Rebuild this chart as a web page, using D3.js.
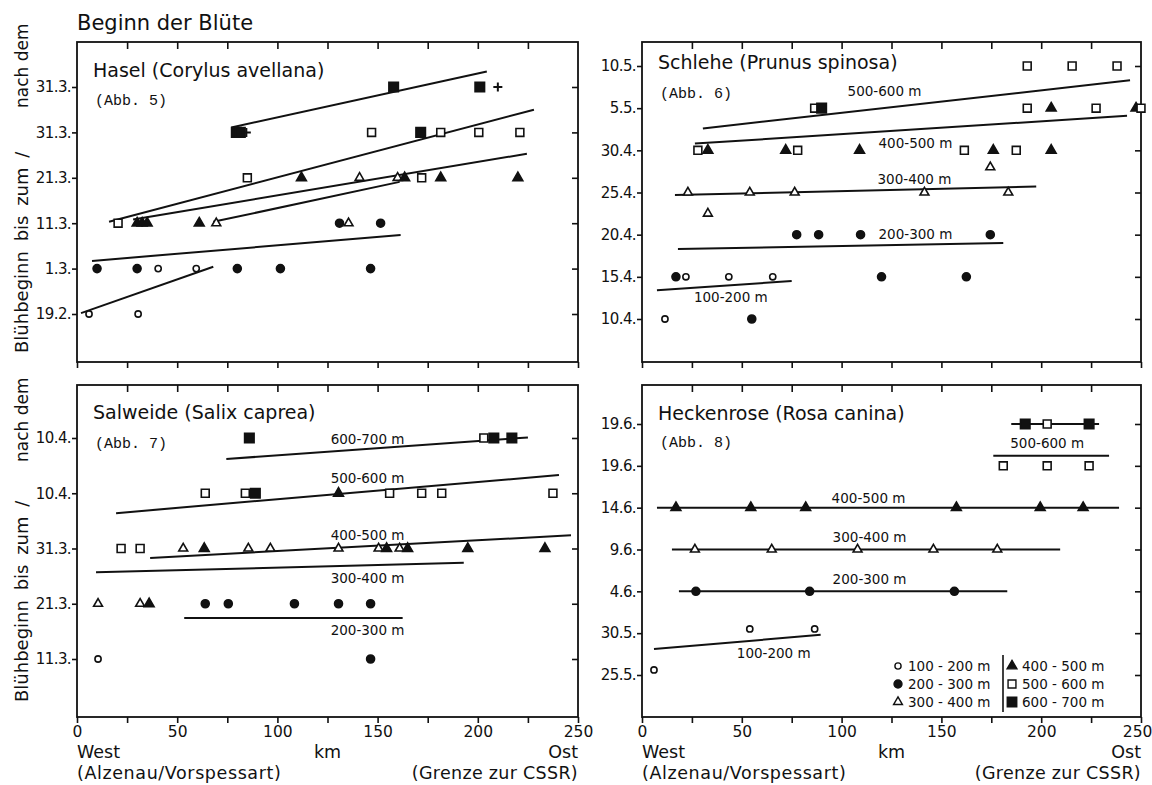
<!DOCTYPE html>
<html>
<head>
<meta charset="utf-8">
<script src="https://cdn.jsdelivr.net/npm/d3@7"></script>
<style>
  body { margin: 0; background: #fff; }
  text { font-family: "DejaVu Sans", sans-serif; fill: #111; }
</style>
</head>
<body>
<svg id="chart" width="1152" height="785"></svg>
<script>
// Beginn der Bluete - four panels, km (west -> east) vs. day of year

var kmTicks = [0, 25, 50, 75, 100, 125, 150, 175, 200, 225, 250];
var kmLabels = [0, 50, 100, 150, 200, 250];

// symbol codes: o = 100-200, c = 200-300, t = 300-400, T = 400-500, s = 500-600, S = 600-700, + = extra
var legendCodes = ['o', 'c', 't', 'T', 's', 'S'];
var legendTexts = ['100 - 200 m', '200 - 300 m', '300 - 400 m', '400 - 500 m', '500 - 600 m', '600 - 700 m'];

// ---- Hasel (Abb. 5)
var haselDays = [50, 60, 70, 80, 90, 100];
var haselTickLabels = ['19.2.', '1.3.', '11.3.', '21.3.', '31.3.', '31.3.'];
var haselPoints = [
  ['S', 158, 100], ['S', 201, 100], ['+', 210, 100],
  ['S', 79.5, 90], ['S', 81.5, 90], ['+', 84.5, 90], ['s', 147, 90], ['S', 171.5, 90],
  ['s', 181.5, 90], ['s', 200.5, 90], ['s', 221, 90],
  ['s', 85, 80], ['T', 112, 80], ['t', 141, 80], ['t', 160, 80], ['T', 163.5, 80],
  ['s', 172, 80], ['T', 181.5, 80], ['T', 220, 80],
  ['s', 20.5, 70], ['T', 30, 70], ['T', 32.5, 70], ['T', 35, 70], ['T', 61, 70], ['t', 69.5, 70],
  ['c', 131, 70], ['t', 135.5, 70], ['c', 151.5, 70],
  ['c', 10, 60], ['c', 30, 60], ['o', 40.5, 60], ['o', 59.5, 60], ['c', 80, 60], ['c', 101.5, 60], ['c', 146.5, 60],
  ['o', 6, 50], ['o', 30.5, 50]
];
var haselLines = [
  [77, 91.1, 204.5, 103.4],
  [16, 70.3, 228, 95],
  [28, 70.8, 224.5, 85.3],
  [68, 70.3, 161, 79.1],
  [7.5, 61.7, 161.5, 67.4],
  [2, 50.2, 68, 60.4]
];
var haselNotes = [];

// ---- Schlehe (Abb. 6)
var schleheDays = [100, 105, 110, 115, 120, 125, 130];
var schleheTickLabels = ['10.4.', '15.4.', '20.4.', '25.4.', '30.4.', '5.5.', '10.5.'];
var schlehePoints = [
  ['s', 193, 130], ['s', 215.5, 130], ['s', 238, 130],
  ['s', 86.5, 125], ['S', 90, 125], ['s', 193, 125], ['T', 205, 125], ['s', 227.5, 125], ['T', 247.5, 125], ['s', 250, 125],
  ['s', 28, 120], ['T', 33, 120], ['T', 72, 120], ['s', 78, 120], ['T', 109, 120], ['s', 161.5, 120],
  ['T', 176, 120], ['s', 187.5, 120], ['T', 205, 120],
  ['t', 174.5, 118],
  ['t', 23, 115], ['t', 54, 115], ['t', 76.5, 115], ['t', 141.5, 115], ['t', 183.5, 115],
  ['t', 33, 112.5],
  ['c', 77.5, 110], ['c', 88.5, 110], ['c', 109.5, 110], ['c', 174.5, 110],
  ['c', 17, 105], ['o', 22, 105], ['o', 43.5, 105], ['o', 65.5, 105], ['c', 120, 105], ['c', 162.5, 105],
  ['o', 11.5, 100], ['c', 55, 100]
];
var schleheLines = [
  [30.5, 122.6, 244.5, 128.3],
  [26.5, 120.8, 243, 124.1],
  [16.5, 114.7, 197.5, 115.7],
  [18, 108.3, 181, 109],
  [7.5, 103.4, 75, 104.5]
];
var schleheNotes = [
  ['500-600 m', 121.5, 127],
  ['400-500 m', 137, 120.8],
  ['300-400 m', 136.5, 116.6],
  ['200-300 m', 137, 110],
  ['100-200 m', 44.5, 102.6]
];

// ---- Salweide (Abb. 7)
var salweideDays = [70, 80, 90, 100, 110];
var salweideTickLabels = ['11.3.', '21.3.', '31.3.', '10.4.', '10.4.'];
var salweidePoints = [
  ['S', 86, 110], ['s', 203, 110], ['S', 208, 110], ['S', 217, 110],
  ['s', 64, 100], ['s', 84, 100], ['S', 89, 100], ['T', 130.5, 100], ['s', 156, 100],
  ['s', 172, 100], ['s', 182, 100], ['s', 237.5, 100],
  ['s', 22, 90], ['s', 31.5, 90], ['t', 53, 90], ['T', 63.5, 90], ['t', 85.5, 90], ['t', 96.5, 90],
  ['t', 130.5, 90], ['t', 150.5, 90], ['T', 154.5, 90], ['t', 161, 90], ['T', 165, 90], ['T', 195, 90], ['T', 233.5, 90],
  ['t', 10.5, 80], ['t', 31.5, 80], ['T', 36, 80], ['c', 64, 80], ['c', 75.5, 80], ['c', 108.5, 80],
  ['c', 130.5, 80], ['c', 146.5, 80],
  ['o', 10.5, 70], ['c', 146.5, 70]
];
var salweideLines = [
  [74.5, 106.2, 225, 110.1],
  [19.5, 96.4, 240.5, 103.3],
  [36.5, 88.3, 246.5, 92.4],
  [9.5, 85.7, 193, 87.4],
  [53.5, 77.4, 162.5, 77.4]
];
var salweideNotes = [
  ['600-700 m', 145, 109.8],
  ['500-600 m', 145, 102.7],
  ['400-500 m', 145, 92.4],
  ['300-400 m', 145, 84.6],
  ['200-300 m', 145, 75.2]
];

// ---- Heckenrose (Abb. 8)
var heckenroseDays = [145, 150, 155, 160, 165, 170, 175];
var heckenroseTickLabels = ['25.5.', '30.5.', '4.6.', '9.6.', '14.6.', '19.6.', '19.6.'];
var heckenrosePoints = [
  ['S', 192, 175], ['s', 203, 175], ['S', 224, 175],
  ['s', 181, 170], ['s', 203, 170], ['s', 224, 170],
  ['T', 17, 165], ['T', 54.5, 165], ['T', 82, 165], ['T', 157.5, 165], ['T', 199.5, 165], ['T', 221, 165],
  ['t', 26.5, 160], ['t', 65, 160], ['t', 108, 160], ['t', 146, 160], ['t', 178, 160],
  ['c', 27, 155], ['c', 84, 155], ['c', 156.5, 155],
  ['o', 54, 150.5], ['o', 86.5, 150.5],
  ['o', 6, 145.6]
];
var heckenroseLines = [
  [185, 175, 229, 175],
  [176, 171.2, 234, 171.2],
  [7.5, 165, 239, 165],
  [15, 160, 209.5, 160],
  [18.5, 155, 183, 155],
  [6, 148.1, 89.5, 149.8]
];
var heckenroseNotes = [
  ['500-600 m', 203, 172.7],
  ['400-500 m', 113.5, 166.1],
  ['300-400 m', 114, 161.5],
  ['200-300 m', 114, 156.4],
  ['100-200 m', 66, 147.6]
];

var svg = d3.select('#chart');

var panels = [
  { name: 'Hasel (Corylus avellana)', abb: '(Abb. 5)', days: haselDays, tickLabels: haselTickLabels,
    points: haselPoints, lines: haselLines, notes: haselNotes,
    x0: 77, x1: 578, top: 42, bottom: 362, r0: 314, r1: 87, nameY: 77, abbY: 105, showX: false },
  { name: 'Schlehe (Prunus spinosa)', abb: '(Abb. 6)', days: schleheDays, tickLabels: schleheTickLabels,
    points: schlehePoints, lines: schleheLines, notes: schleheNotes,
    x0: 642, x1: 1141, top: 42, bottom: 362, r0: 319, r1: 66, nameY: 69, abbY: 98, showX: false },
  { name: 'Salweide (Salix caprea)', abb: '(Abb. 7)', days: salweideDays, tickLabels: salweideTickLabels,
    points: salweidePoints, lines: salweideLines, notes: salweideNotes,
    x0: 77, x1: 578, top: 385, bottom: 717, r0: 659, r1: 438, nameY: 419, abbY: 448, showX: true },
  { name: 'Heckenrose (Rosa canina)', abb: '(Abb. 8)', days: heckenroseDays, tickLabels: heckenroseTickLabels,
    points: heckenrosePoints, lines: heckenroseLines, notes: heckenroseNotes,
    x0: 642, x1: 1141, top: 385, bottom: 717, r0: 675, r1: 424, nameY: 420, abbY: 447, showX: true }
];

function markerPath(code) {
  if (code === 'o' || code === 'c') return d3.symbol(d3.symbolCircle, code === 'o' ? 30 : 50)();
  if (code === 't' || code === 'T') return d3.symbol(d3.symbolTriangle, code === 't' ? 34 : 42)();
  if (code === 's' || code === 'S') return d3.symbol(d3.symbolSquare, code === 's' ? 62 : 90)();
  return 'M-4.5,0H4.5M0,-4.5V4.5';
}

function isOpen(code) {
  return 'ots+'.indexOf(code) >= 0;
}

function drawMarkers(g, data, xs, ys) {
  g.selectAll('.mark')
    .data(data)
    .enter()
    .append('path')
    .attr('class', 'mark')
    .attr('d', function(d) { return markerPath(d[0]); })
    .attr('transform', function(d) { return 'translate(' + xs(d[1]) + ',' + ys(d[2]) + ')'; })
    .attr('fill', function(d) { return isOpen(d[0]) ? '#fff' : '#111'; })
    .attr('stroke', '#111')
    .attr('stroke-width', function(d) { return d[0] === '+' ? 2 : 1.6; });
}

panels.forEach(function(p) {
  var g = svg.append('g');
  var x = d3.scaleLinear().domain([0, 250]).range([p.x0, p.x1]);
  var y = d3.scaleLinear().domain([p.days[0], p.days[p.days.length - 1]]).range([p.r0, p.r1]);

  // axes (ticks only on top/right, labels left/bottom)
  var bottomAxis = d3.axisBottom(x).tickValues(kmTicks).tickSize(6).tickSizeOuter(0).tickPadding(3)
    .tickFormat(function(d) { return p.showX && kmLabels.indexOf(d) >= 0 ? d : ''; });
  var topAxis = d3.axisTop(x).tickValues(kmTicks.slice(1, -1)).tickSize(-7).tickSizeOuter(0).tickFormat('');
  var leftAxis = d3.axisLeft(y).tickValues(p.days).tickSize(5).tickSizeOuter(0).tickPadding(1)
    .tickFormat(function(d, i) { return p.tickLabels[i]; });
  var rightAxis = d3.axisRight(y).tickValues(p.days).tickSize(-6).tickSizeOuter(0).tickFormat('');

  var bx = g.append('g').attr('transform', 'translate(0,' + p.bottom + ')').call(bottomAxis)
    .attr('font-family', 'DejaVu Sans').attr('font-size', 15.5);
  if (p.x1 > 1100) {
    bx.selectAll('.tick text').filter(function(d) { return d === 250; }).attr('dx', '-0.25em');
  }
  g.append('g').attr('transform', 'translate(0,' + p.top + ')').call(topAxis);
  g.append('g').attr('transform', 'translate(' + p.x0 + ',0)').call(leftAxis)
    .attr('font-family', 'DejaVu Sans').attr('font-size', 15).attr('letter-spacing', -0.6);
  g.append('g').attr('transform', 'translate(' + p.x1 + ',0)').call(rightAxis);
  g.selectAll('.domain').remove();
  g.selectAll('.tick line').attr('stroke', '#111').attr('stroke-width', 1.6);
  g.selectAll('.tick text').attr('fill', '#111');

  g.append('rect')
    .attr('x', p.x0).attr('y', p.top)
    .attr('width', p.x1 - p.x0).attr('height', p.bottom - p.top)
    .attr('fill', 'none').attr('stroke', '#111').attr('stroke-width', 1.8);

  g.append('text').attr('x', p.x0 + 16).attr('y', p.nameY)
    .attr('font-size', 19).text(p.name);
  g.append('text').attr('x', p.x0 + 18).attr('y', p.abbY)
    .style('font-family', '"Liberation Mono", monospace').attr('font-size', 15).text(p.abb);

  g.selectAll('.fit')
    .data(p.lines)
    .enter()
    .append('line')
    .attr('class', 'fit')
    .attr('x1', function(d) { return x(d[0]); })
    .attr('y1', function(d) { return y(d[1]); })
    .attr('x2', function(d) { return x(d[2]); })
    .attr('y2', function(d) { return y(d[3]); })
    .attr('stroke', '#111').attr('stroke-width', 2);

  g.selectAll('.note')
    .data(p.notes)
    .enter()
    .append('text')
    .attr('class', 'note')
    .attr('x', function(d) { return x(d[1]); })
    .attr('y', function(d) { return y(d[2]); })
    .attr('dy', '0.35em')
    .attr('text-anchor', 'middle')
    .attr('font-size', 13.5)
    .text(function(d) { return d[0]; });

  drawMarkers(g, p.points, x, y);

  if (p.showX) {
    var foot = [
      ['West', p.x0, 758, 'start', 0], ['km', x(125), 758, 'middle', 0], ['Ost', p.x1, 758, 'end', 0],
      ['(Alzenau/Vorspessart)', p.x0, 779, 'start', 0.6], ['(Grenze zur CSSR)', p.x1, 779, 'end', 0.3]
    ];
    g.selectAll('.foot')
      .data(foot)
      .enter()
      .append('text')
      .attr('class', 'foot')
      .attr('x', function(d) { return d[1]; })
      .attr('y', function(d) { return d[2]; })
      .attr('text-anchor', function(d) { return d[3]; })
      .attr('letter-spacing', function(d) { return d[4]; })
      .attr('font-size', 17.5)
      .text(function(d) { return d[0]; });
  }
});

// title
svg.append('text').attr('x', 77).attr('y', 30).attr('font-size', 21).text('Beginn der Blüte');

// rotated y captions
[[353, 'Blühbeginn bis zum /', 18, 4], [108, 'nach dem', 17, 0], [702, 'Blühbeginn bis zum /', 18, 4], [462, 'nach dem', 17, 0]]
  .forEach(function(c) {
    svg.append('text')
      .attr('transform', 'translate(28,' + c[0] + ') rotate(-90)')
      .attr('font-size', c[2])
      .attr('word-spacing', c[3])
      .text(c[1]);
  });

// legend inside Heckenrose panel
var legend = svg.append('g').attr('transform', 'translate(898,666)');
legend.append('line').attr('x1', 105).attr('x2', 105).attr('y1', -11).attr('y2', 46)
  .attr('stroke', '#111').attr('stroke-width', 1.6);
var legendRows = legendCodes.map(function(c, i) {
  return [c, i % 3, Math.floor(i / 3), legendTexts[i]];
});
var items = legend.selectAll('.item')
  .data(legendRows)
  .enter()
  .append('g')
  .attr('class', 'item')
  .attr('transform', function(d) { return 'translate(' + (d[2] * 114) + ',' + (d[1] * 18) + ')'; });
items.append('path')
  .attr('d', function(d) { return markerPath(d[0]); })
  .attr('fill', function(d) { return isOpen(d[0]) ? '#fff' : '#111'; })
  .attr('stroke', '#111').attr('stroke-width', 1.4);
items.append('text')
  .attr('x', 10).attr('dy', '0.35em')
  .attr('font-size', 13.5)
  .text(function(d) { return d[3]; });
</script>
</body>
</html>
